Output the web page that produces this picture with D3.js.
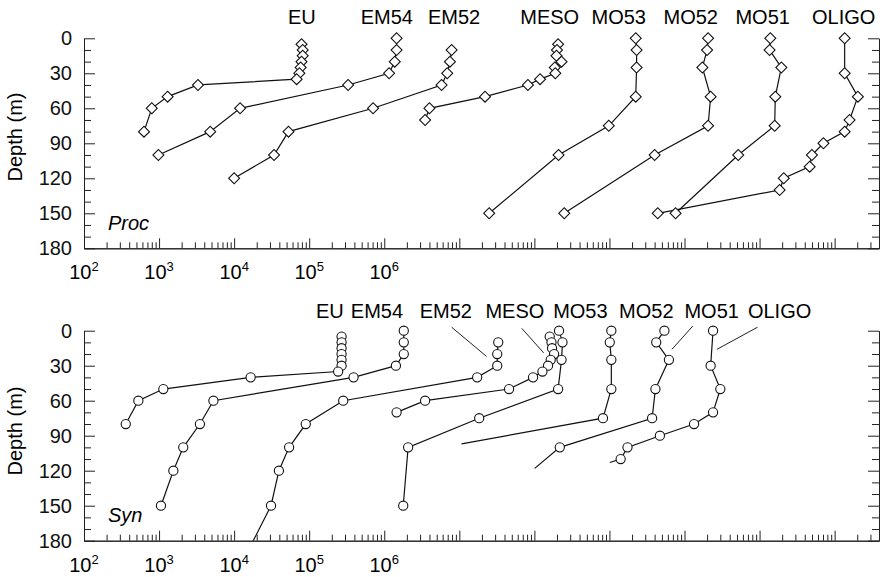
<!DOCTYPE html>
<html>
<head>
<meta charset="utf-8">
<script src="https://cdn.jsdelivr.net/npm/d3@7"></script>
<style>
  body { margin: 0; background: #fff; }
  svg { display: block; font-family: "Liberation Sans", Arial, Helvetica, sans-serif; }
  .profile { fill: none; stroke: #111; stroke-width: 1.2; }
  .marker { fill: #fff; stroke: #111; stroke-width: 1.1; }
  .axis path, .axis line { stroke: #222; stroke-width: 1; }
  .axis text { fill: #111; }
</style>
</head>
<body>
<svg class="chart"></svg>
<script>
// station names, same order in both panels
var stations = ["EU", "EM54", "EM52", "MESO", "MO53", "MO52", "MO51", "OLIGO"];

// Proc profiles: [depth (m), value on the log axis]
var procEU    = [[5, 7.9e4], [10, 8.2e4], [15, 8.2e4], [20, 7.9e4], [25, 7.7e4], [30, 7.4e4], [35, 6.8e4],
                 [40, 3.3e3], [50, 1.3e3], [60, 8.0e2], [80, 6.3e2]];
var procEM54  = [[0, 1.46e6], [10, 1.46e6], [20, 1.38e6], [30, 1.16e6], [40, 3.3e5], [60, 1.2e4],
                 [80, 4.8e3], [100, 9.8e2]];
var procEM52  = [[10, 7.9e6], [20, 7.5e6], [30, 6.9e6], [40, 5.8e6], [60, 7.1e5], [80, 5.3e4],
                 [100, 3.4e4], [120, 1.0e4]];
var procMESO  = [[5, 2.07e8], [10, 2.0e8], [15, 1.97e8], [20, 2.3e8], [25, 1.87e8], [30, 1.9e8],
                 [35, 1.19e8], [40, 8.2e7], [50, 2.2e7], [60, 4.0e6], [70, 3.5e6]];
var procMO53  = [[0, 2.24e9], [10, 2.3e9], [25, 2.3e9], [50, 2.24e9], [75, 9.8e8], [100, 2.1e8], [150, 2.5e7]];
var procMO52  = [[0, 2.06e10], [10, 2.0e10], [25, 1.73e10], [50, 2.23e10], [75, 2.06e10], [100, 4.0e9], [150, 2.5e8]];
var procMO51  = [[0, 1.39e11], [10, 1.36e11], [25, 1.95e11], [50, 1.62e11], [75, 1.59e11], [100, 5.2e10], [150, 7.6e9]];
var procOLIGO = [[0, 1.36e12], [30, 1.36e12], [50, 2.04e12], [70, 1.58e12], [80, 1.36e12], [90, 7.1e11],
                 [100, 4.98e11], [110, 4.65e11], [120, 2.1e11], [130, 1.85e11], [150, 4.4e9]];

// Syn profiles
var synEU    = [[5, 2.7e5], [10, 2.7e5], [15, 2.7e5], [20, 2.7e5], [25, 2.7e5], [30, 2.7e5], [35, 2.43e5],
                [40, 1.66e4], [50, 1.14e3], [60, 5.3e2], [80, 3.6e2]];
var synEM54  = [[0, 1.82e6], [10, 1.82e6], [20, 1.82e6], [30, 1.43e6], [40, 3.9e5], [60, 5.3e3],
                [80, 3.5e3], [100, 2.1e3], [120, 1.55e3], [150, 1.06e3]];
var synEM52  = [[10, 3.3e7], [20, 3.2e7], [30, 3.2e7], [40, 1.73e7], [60, 2.84e5], [80, 9.0e4],
                [100, 5.4e4], [120, 3.95e4], [150, 3.1e4], [200, 1.25e4]];
var synMESO  = [[5, 1.6e8], [10, 1.69e8], [15, 1.72e8], [20, 1.83e8], [25, 1.65e8], [30, 1.52e8],
                [35, 1.28e8], [40, 9.6e7], [50, 4.6e7], [60, 3.5e6], [70, 1.46e6]];
var synMO53  = [[0, 2.13e8], [10, 2.37e8], [25, 2.3e8], [50, 2.07e8], [75, 1.84e7], [100, 2.08e6], [150, 1.79e6]];
var synMO52  = [[0, 1.06e9], [10, 1.01e9], [25, 1.06e9], [50, 1.06e9], [75, 8.2e8], [97, 1.07e7]];
var synMO51  = [[0, 5.4e9], [10, 4.2e9], [25, 6.2e9], [50, 4.1e9], [75, 3.7e9], [100, 2.18e8], [118, 1.01e8]];
var synOLIGO = [[0, 2.4e10], [30, 2.23e10], [50, 3.0e10], [70, 2.4e10], [80, 1.34e10], [90, 4.7e9],
                [100, 1.74e9], [110, 1.41e9], [113, 1.01e9]];

// these Syn profiles end in a bare line, no marker on the last point
var synUnmarkedEnd = ["MO52", "MO51", "OLIGO"];

// where the station names sit (value on the x axis)
var procLabelAt = [8.0e4, 1.08e6, 8.5e6, 1.6e8, 1.33e9, 1.21e10, 1.1e11, 1.32e12];
var synLabelAt  = [1.89e5, 8.0e5, 6.6e6, 5.5e7, 4.1e8, 3.1e9, 2.3e10, 1.85e11];

// leader lines in the Syn panel: [station, x0, depth0, x1, depth1]
var synLeaders = [["EM52", 7.9e6, -3, 2.3e7, 22], ["MESO", 6.8e7, -2, 1.33e8, 19],
                  ["MO51", 1.29e10, -4, 6.8e9, 16], ["OLIGO", 9.4e10, -3, 2.7e10, 16]];

// axis ticks
var xLabelPowers = [2, 3, 4, 5, 6];
var depthLabels = [0, 30, 60, 90, 120, 150, 180];

function show() {

    'use strict';

    var width = 883, height = 577;
    var left = 84, right = 879;

    var svg = d3.select(".chart")
        .attr("width", width)
        .attr("height", height);

    var x = d3.scaleLog()
        .domain([1e2, 3.9e12])
        .range([left, right]);

    var line = d3.line();
    var diamond = d3.symbol(d3.symbolSquare, 60);

    // all decade and in-between ticks along the x axis
    var xMajor = [], xMinor = [];
    for (var e = 2; e <= 12; e++) {
        for (var m = 1; m < 10; m++) {
            var v = m * Math.pow(10, e);
            if (v > x.domain()[1]) break;
            (m === 1 ? xMajor : xMinor).push(v);
        }
    }
    var depthMinor = d3.range(0, 181, 10).filter(function(d) { return d % 30 !== 0; });

    var panels = [
        {name: "Proc", top: 38.3, bottom: 248.3, series: [procEU, procEM54, procEM52, procMESO, procMO53, procMO52, procMO51, procOLIGO],
         labelAt: procLabelAt, labelGap: 14.5, marker: "diamond", unmarked: [], leaders: [], titleY: 137},
        {name: "Syn", top: 330.7, bottom: 540.7, series: [synEU, synEM54, synEM52, synMESO, synMO53, synMO52, synMO51, synOLIGO],
         labelAt: synLabelAt, labelGap: 12.7, marker: "circle", unmarked: synUnmarkedEnd, leaders: synLeaders, titleY: 431}
    ];

    panels.forEach(function(p, pi) {

        var y = d3.scaleLinear().domain([0, 180]).range([p.top, p.bottom]);
        line.x(function(d) { return x(d[1]); }).y(function(d) { return y(d[0]); });

        var g = svg.append("g");

        // clip so profiles running past 180 m stop at the axis
        // (a little room above 0 m so the surface markers stay whole)
        svg.append("clipPath").attr("id", "clip" + pi)
            .append("rect")
            .attr("x", left).attr("y", p.top - 10)
            .attr("width", right - left).attr("height", p.bottom - p.top + 10);

        // axes, ticks pointing into the plot
        g.append("g").attr("class", "axis")
            .attr("transform", "translate(0," + p.bottom + ")")
            .call(d3.axisBottom(x).tickValues(xMinor).tickSize(-6).tickSizeOuter(0).tickFormat(""));
        g.append("g").attr("class", "axis")
            .attr("transform", "translate(0," + p.bottom + ")")
            .call(d3.axisBottom(x).tickValues(xMajor).tickSize(-10).tickSizeOuter(0).tickFormat(""));

        g.append("g").attr("class", "axis")
            .attr("transform", "translate(" + left + ",0)")
            .call(d3.axisLeft(y).tickValues(depthMinor).tickSize(-7).tickSizeOuter(0).tickFormat(""));
        g.append("g").attr("class", "axis")
            .attr("transform", "translate(" + left + ",0)")
            .call(d3.axisLeft(y).tickValues(depthLabels).tickSize(-11).tickSizeOuter(0).tickPadding(12))
            .attr("font-size", 20)
            .attr("font-family", null);

        g.append("g").attr("class", "axis")
            .attr("transform", "translate(" + right + ",0)")
            .call(d3.axisRight(y).tickValues(depthMinor).tickSize(-7).tickSizeOuter(0).tickFormat(""));
        g.append("g").attr("class", "axis")
            .attr("transform", "translate(" + right + ",0)")
            .call(d3.axisRight(y).tickValues(depthLabels).tickSize(-11).tickSizeOuter(0).tickFormat(""));

        // 10^n labels
        var xl = g.selectAll(".xlabel")
            .data(xLabelPowers)
            .enter().append("text")
            .attr("class", "xlabel")
            .attr("x", function(d) { return x(Math.pow(10, d)); })
            .attr("y", p.bottom + 31)
            .attr("text-anchor", "middle")
            .attr("font-size", 20)
            .text("10");
        xl.append("tspan")
            .attr("dy", -8)
            .attr("font-size", 13)
            .text(function(d) { return d; });

        // axis title
        g.append("text")
            .attr("transform", "translate(22," + p.titleY + ") rotate(-90)")
            .attr("text-anchor", "middle")
            .attr("font-size", 20)
            .text("Depth (m)");

        // panel name
        g.append("text")
            .attr("x", left + 24)
            .attr("y", p.bottom - 18.5)
            .attr("font-size", 20)
            .attr("font-style", "italic")
            .text(p.name);

        // station labels above the plot
        g.selectAll(".station")
            .data(stations)
            .enter().append("text")
            .attr("class", "station")
            .attr("x", function(d, i) { return x(p.labelAt[i]); })
            .attr("y", p.top - p.labelGap)
            .attr("text-anchor", "middle")
            .attr("font-size", 20)
            .text(function(d) { return d; });

        g.selectAll(".leader")
            .data(p.leaders)
            .enter().append("line")
            .attr("class", "leader")
            .attr("x1", function(d) { return x(d[1]); })
            .attr("y1", function(d) { return y(d[2]); })
            .attr("x2", function(d) { return x(d[3]); })
            .attr("y2", function(d) { return y(d[4]); })
            .attr("stroke", "#222")
            .attr("stroke-width", 1);

        // profiles
        var plot = g.append("g").attr("clip-path", "url(#clip" + pi + ")");

        plot.selectAll(".profile")
            .data(p.series)
            .enter().append("path")
            .attr("class", "profile")
            .attr("d", line);

        p.series.forEach(function(s, si) {
            var pts = p.unmarked.indexOf(stations[si]) >= 0 ? s.slice(0, -1) : s;
            if (p.marker === "diamond") {
                plot.selectAll(".m" + si)
                    .data(pts)
                    .enter().append("path")
                    .attr("class", "marker m" + si)
                    .attr("d", diamond)
                    .attr("transform", function(d) {
                        return "translate(" + x(d[1]) + "," + y(d[0]) + ") rotate(45)";
                    });
            } else {
                plot.selectAll(".m" + si)
                    .data(pts)
                    .enter().append("circle")
                    .attr("class", "marker m" + si)
                    .attr("cx", function(d) { return x(d[1]); })
                    .attr("cy", function(d) { return y(d[0]); })
                    .attr("r", 4.6);
            }
        });
    });
}

show();
</script>
</body>
</html>
